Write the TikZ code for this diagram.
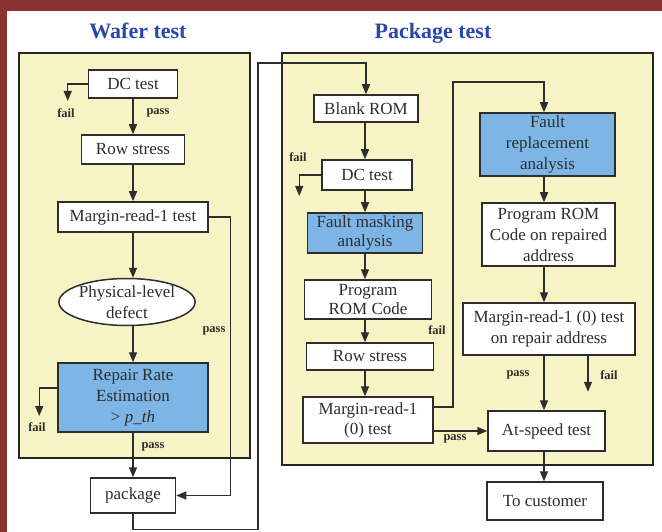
\documentclass[tikz,border=0pt]{standalone}
\usepackage{fontspec}
\setmainfont{Liberation Serif}
\usetikzlibrary{arrows.meta,shapes.geometric}

\definecolor{frame}{RGB}{138,50,46}
\definecolor{panelfill}{RGB}{246,243,196}
\definecolor{bluefill}{RGB}{125,182,230}
\definecolor{titleblue}{RGB}{42,72,170}
\definecolor{ink}{RGB}{45,45,45}

\tikzset{
  box/.style={draw=ink, line width=1.5pt, fill=white, align=center,
    inner sep=1pt, text=ink, font=\fontsize{17}{21}\selectfont},
  bluebox/.style={box, fill=bluefill},
  oval/.style={box, ellipse},
  panel/.style={draw=black!85, line width=2.8pt, fill=panelfill},
  arr/.style={draw=ink, line width=1.4pt, -{Triangle[length=10pt,width=8pt]}},
  lbl/.style={text=ink, font=\fontsize{12.5}{14}\selectfont\bfseries, inner sep=0pt},
  heading/.style={text=titleblue, font=\fontsize{22}{24}\selectfont\bfseries},
}

\begin{document}
\begin{tikzpicture}[x=1pt,y=-1pt]
\useasboundingbox (0,0) rectangle (662,532);
\fill[white] (0,0) rectangle (662,532);
% outer frame strips
\fill[frame] (0,0) rectangle (662,11);
\fill[frame] (0,0) rectangle (7,532);

% panels
\draw[panel] (19,53) rectangle (250,458);
\draw[panel] (282,53) rectangle (653,465);
\node[heading] (t1) at (138,31) {Wafer test};
\node[heading] (t2) at (433,33) {Package test};

% wafer test flow
\node[box, minimum width=89, minimum height=28] (dcA) at (133,84) {DC test};
\node[box, minimum width=103, minimum height=29] (rowA) at (133,149.5) {Row stress};
\node[box, minimum width=150, minimum height=30] (mrA) at (133,217) {Margin-read-1 test};
\node[oval, minimum width=130, minimum height=47, inner sep=0pt] (ell) at (127,302) {Physical-level\\defect};
\node[bluebox, minimum width=150, minimum height=69] (rep) at (133,397.5) {Repair Rate\\Estimation\\> \textit{p\_th}};
\node[box, minimum width=85, minimum height=35] (pkg) at (133,495.5) {package};

\draw[arr] (dcA.west) -- ++(-20,0) -- ++(0,17);
\node[lbl] (fA) at (66,113) {fail};
\draw[arr] (dcA) -- (rowA);
\node[lbl] (pA) at (158,113) {pass};
\draw[arr] (rowA) -- (mrA);
\draw[arr] (mrA.south) -- (mrA.south |- ell.north);
\draw[arr] (mrA.south |- ell.south) -- (rep.north);
\draw[arr] (mrA.east) -- ++(22,0) |- (pkg.east);
\node[lbl] (pB) at (214,331) {pass};
\draw[arr] ([yshift=9.5pt]rep.west) -- ++(-18,0) -- ++(0,28);
\node[lbl] (fB) at (37,427) {fail};
\draw[arr] (rep) -- (pkg);
\node[lbl] (pC) at (153,447) {pass};

% package test flow, left column
\node[box, minimum width=104, minimum height=27] (blank) at (366,108.5) {Blank ROM};
\node[box, minimum width=90, minimum height=30] (dcB) at (367,175) {DC test};
\node[bluebox, minimum width=115, minimum height=40, font=\fontsize{17}{19}\selectfont] (fm) at (365,233) {Fault masking\\analysis};
\node[box, minimum width=127, minimum height=39, font=\fontsize{17}{19}\selectfont] (prog) at (368,299.5) {Program\\ROM Code};
\node[box, minimum width=127, minimum height=27] (rowB) at (370,356.5) {Row stress};
\node[box, minimum width=130, minimum height=46, font=\fontsize{17}{20}\selectfont] (mrB) at (368,420) {Margin-read-1\\(0) test};

\draw[arr] (pkg.south) -- ++(0,16) -| (258,63) -| (blank.north);
\draw[arr] (blank.south -| 365,0) -- (dcB.north -| 365,0);
\draw[arr] (dcB.west) -- ++(-22,0) -- ++(0,21);
\node[lbl] (fC) at (298,157) {fail};
\draw[arr] (dcB.south -| 365,0) -- (fm.north -| 365,0);
\draw[arr] (fm.south -| 365,0) -- (prog.north -| 365,0);
\draw[arr] (prog.south -| 365,0) -- (rowB.north -| 365,0);
\draw[arr] (rowB.south -| 365,0) -- (mrB.north -| 365,0);

% package test flow, right column
\node[bluebox, minimum width=135, minimum height=63] (frep) at (547.5,144.5) {Fault\\replacement\\analysis};
\node[box, minimum width=133, minimum height=63] (prc) at (548.5,234.5) {Program ROM\\Code on repaired\\address};
\node[box, minimum width=172, minimum height=52] (mrr) at (549,329) {Margin-read-1 (0) test\\on repair address};
\node[box, minimum width=117, minimum height=40] (at) at (546.5,431) {At-speed test};
\node[box, minimum width=116, minimum height=38] (cust) at (545,501) {To customer};

\draw[arr] ([yshift=13pt]mrB.east) -| (453,82) -| (frep.north -| 544,0);
\node[lbl] (fD) at (437,330) {fail};
\draw[arr] (frep.south -| 544,0) -- (prc.north -| 544,0);
\draw[arr] (prc.south -| 544,0) -- (mrr.north -| 544,0);
\draw[arr] (mrr.south -| 544,0) -- (at.north -| 544,0);
\node[lbl] (pD) at (518,375) {pass};
\draw[arr] (mrr.south -| 588,0) -- ++(0,36);
\node[lbl] (fE) at (609,375) {fail};
\draw[arr] (mrB.east |- at.west) -- (at.west);
\node[lbl] (pE) at (455,439) {pass};
\draw[arr] (at.south -| 544,0) -- (cust.north -| 544,0);
\end{tikzpicture}
\end{document}
